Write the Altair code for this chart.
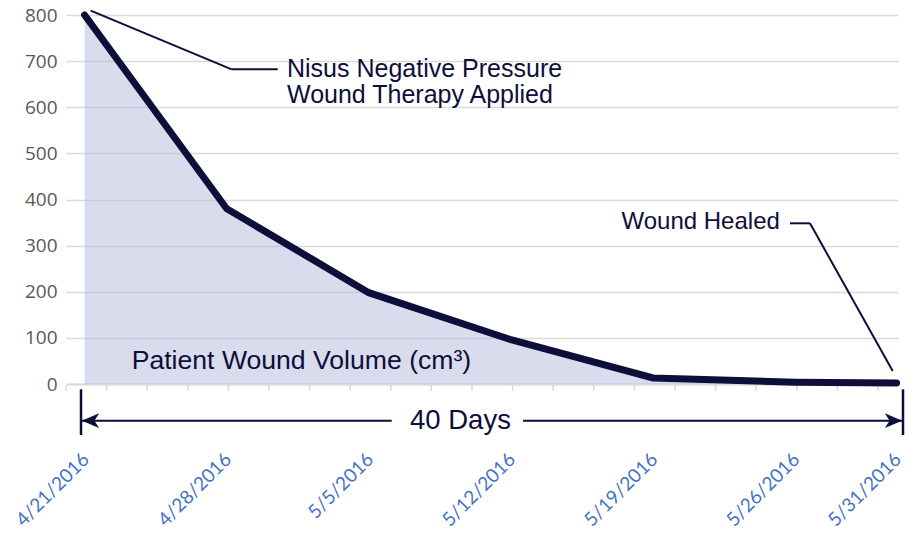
import altair as alt
import pandas as pd

# ---- data ----
dates = ["2016-04-21", "2016-04-28", "2016-05-05", "2016-05-12",
         "2016-05-19", "2016-05-26", "2016-05-31"]
volume = [800, 380, 198, 96, 13, 4, 2]
y_ticks = [0, 100, 200, 300, 400, 500, 600, 700, 800]

NAVY = "#0d0e3a"
GRID = "#d9d9d9"

df = pd.DataFrame({"date": dates, "volume": volume})


def ms(s):
    return int(pd.Timestamp(s, tz="UTC").value // 10**6)


x_domain = [ms("2016-04-20 02:00"), ms("2016-05-31 01:40")]
x_scale = alt.Scale(type="utc", domain=x_domain)
y_scale = alt.Scale(domain=[0, 800], nice=False)

# minor tick marks every two days along the axis, starting at the axis start
tick_df = pd.DataFrame({
    "t": pd.date_range("2016-04-20 02:00", periods=21, freq="2D").strftime("%Y-%m-%dT%H:%M:%SZ")
})

x_axis = alt.Axis(
    values=[ms(s) for s in dates],
    labelExpr="utcFormat(datum.value, '%-m/%-d/%Y')",
    labelAngle=-45, labelAlign="right", labelBaseline="middle",
    labelOffset=1, labelPadding=72, labelFlush=False, labelOverlap=False,
    labelFont="Lato", labelFontSize=19, labelColor="#4472c4",
    tickSize=0, tickColor=GRID, grid=False,
    domainColor=GRID, domainWidth=2, title=None,
)
y_axis = alt.Axis(
    values=y_ticks, grid=True, gridColor=GRID, gridWidth=1.3,
    domain=False, ticks=False, labelPadding=9,
    labelFont="Open Sans", labelFontSize=19, labelColor="#595959", title=None,
)

base = alt.Chart(df)
area = base.mark_area(color="#b9bcdf", opacity=0.53).encode(
    x=alt.X("date:T", scale=x_scale, axis=x_axis),
    y=alt.Y("volume:Q", scale=y_scale, axis=y_axis),
)
line = base.mark_line(color=NAVY, strokeWidth=7, strokeCap="round").encode(
    x=alt.X("date:T", scale=x_scale, axis=x_axis),
    y=alt.Y("volume:Q", scale=y_scale, axis=y_axis),
)
ticks = alt.Chart(tick_df).mark_rule(color=GRID, strokeWidth=1.5).encode(
    x=alt.X("t:T", scale=x_scale, axis=x_axis),
    y=alt.value(370), y2=alt.value(376),
)

one = pd.DataFrame({"k": [0]})


def seg(x1, y1, x2, y2, w=2):
    return alt.Chart(one).mark_rule(color=NAVY, strokeWidth=w).encode(
        x=alt.value(x1), y=alt.value(y1), x2=alt.value(x2), y2=alt.value(y2))


def label(txt, x, y, size):
    return alt.Chart(one).mark_text(
        text=txt, align="left", baseline="alphabetic", font="Liberation Sans",
        fontSize=size, color=NAVY).encode(x=alt.value(x), y=alt.value(y))


def head(path, x, y):
    return alt.Chart(one).mark_point(
        shape=path, filled=True, color=NAVY, opacity=1, size=300, strokeWidth=0
    ).encode(x=alt.value(x), y=alt.value(y))


annotations = [
    seg(24.7, -4.3, 165.7, 54.3), seg(165.7, 54.3, 211.7, 54.3),
    label("Nisus Negative Pressure", 221, 62.3, 25),
    label("Wound Therapy Applied", 221, 87.7, 25),
    label("Wound Healed", 555.5, 214.3, 24),
    seg(724, 208.3, 744, 208.3), seg(744, 208.3, 826.7, 356),
    label("Patient Wound Volume (cm³)", 65.7, 354.3, 26.6),
    label("40 Days", 344, 414.3, 27.5),
    seg(15, 405.7, 325.7, 405.7), seg(457, 405.7, 836, 405.7),
    seg(15, 374.3, 15, 420, 2.5), seg(837, 374.3, 837, 420, 2.5),
    head("M-1,0 L1,-0.85 L0.45,0 L1,0.85 Z", 24.5, 405.7),
    head("M1,0 L-1,-0.85 L-0.45,0 L-1,0.85 Z", 827.5, 405.7),
]

chart = alt.layer(area, ticks, line, *annotations).properties(
    width=832, height=369,
    autosize=alt.AutoSizeParams(type="none"),
    padding={"left": 58, "top": 7, "right": 7, "bottom": 145},
).configure_view(stroke=None)

chart.save("out.html", embed_options={"renderer": "svg", "actions": False})
